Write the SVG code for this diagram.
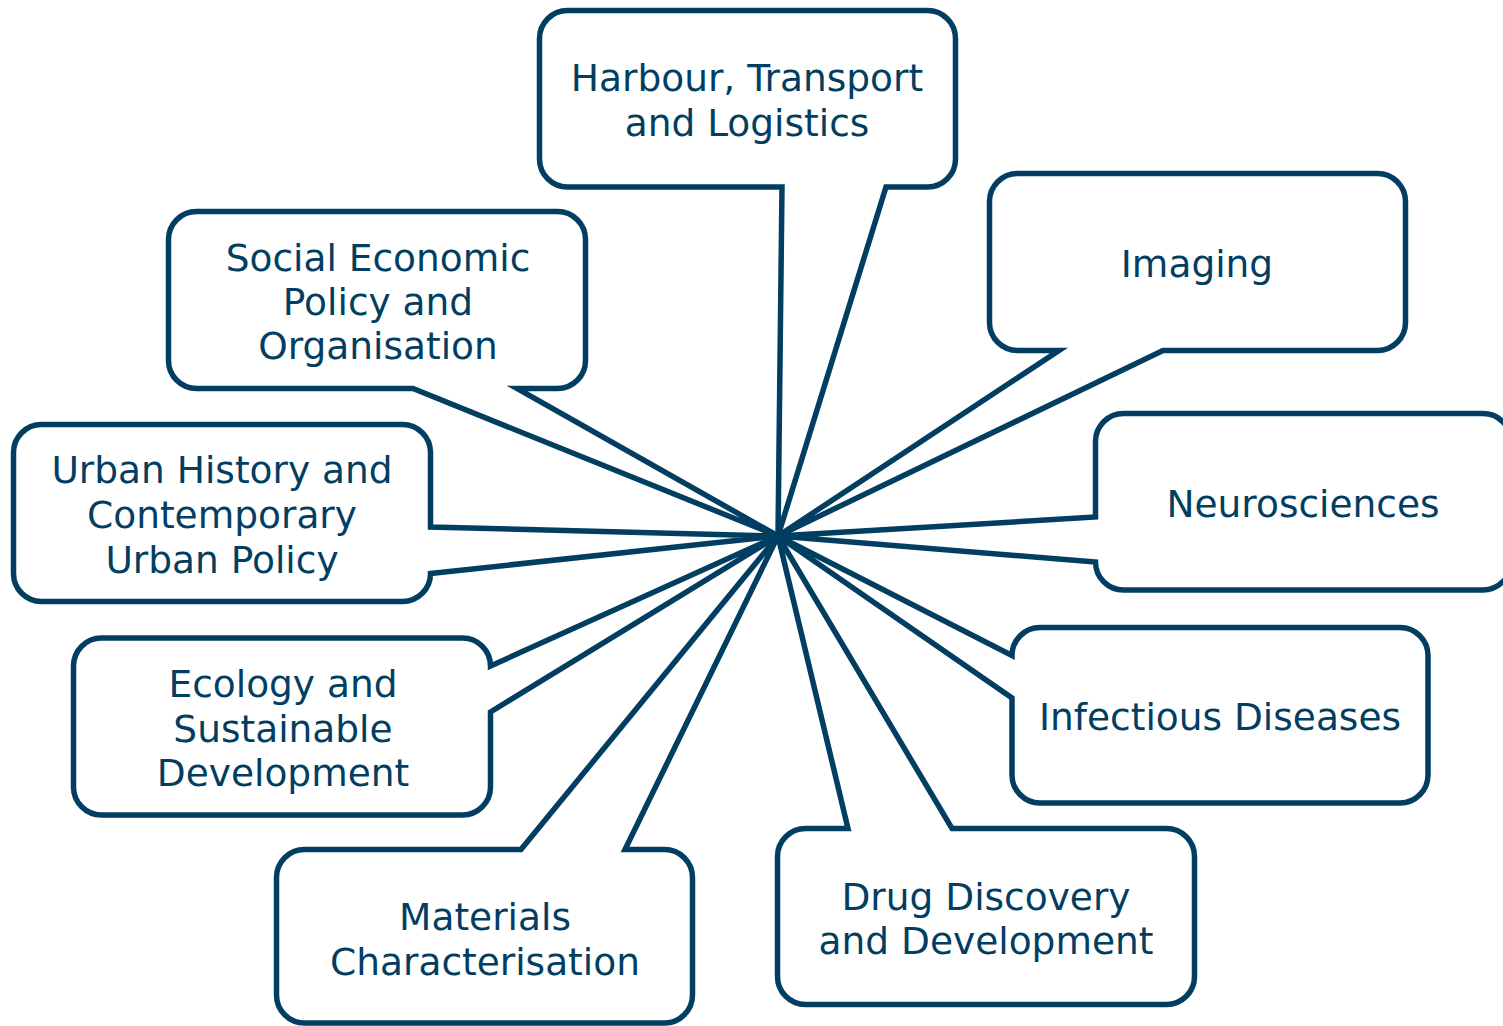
<svg xmlns="http://www.w3.org/2000/svg" width="1503" height="1026" viewBox="0 0 1503 1026">
<style>
.box{fill:#ffffff;stroke:#023e62;stroke-width:5.5;stroke-linejoin:miter}
.lbl{font-family:"DejaVu Sans",Verdana,sans-serif;font-size:37.5px;fill:#023e62;text-anchor:middle}
</style>
<rect width="1503" height="1026" fill="#ffffff"/>
<g id="connectors"></g>
<g id="harbour">
<path class="box" d="M567.5,10.5 H927.5 A28,28 0 0 1 955.5,38.5 V159 A28,28 0 0 1 927.5,187 H886 L778,536 L782,187 H567.5 A28,28 0 0 1 539.5,159 V38.5 A28,28 0 0 1 567.5,10.5 Z"/>
<text class="lbl" x="747" y="91">Harbour, Transport</text>
<text class="lbl" x="747" y="136">and Logistics</text>
</g>
<g id="imaging">
<path class="box" d="M1017.5,173.5 H1377.5 A28,28 0 0 1 1405.5,201.5 V322.5 A28,28 0 0 1 1377.5,350.5 H1163 L778,536 L1059,350.5 H1017.5 A28,28 0 0 1 989.5,322.5 V201.5 A28,28 0 0 1 1017.5,173.5 Z"/>
<text class="lbl" x="1197" y="277">Imaging</text>
</g>
<g id="neurosciences">
<path class="box" d="M1123.5,413.5 H1483 A28,28 0 0 1 1511,441.5 V562 A28,28 0 0 1 1483,590 H1123.5 A28,28 0 0 1 1095.5,562 L778,536 L1095.5,517 V441.5 A28,28 0 0 1 1123.5,413.5 Z"/>
<text class="lbl" x="1303" y="517">Neurosciences</text>
</g>
<g id="infectious">
<path class="box" d="M1040,627.5 H1400 A28,28 0 0 1 1428,655.5 V775 A28,28 0 0 1 1400,803 H1040 A28,28 0 0 1 1012,775 V698 L778,536 L1012,655.5 A28,28 0 0 1 1040,627.5 Z"/>
<text class="lbl" x="1220" y="730">Infectious Diseases</text>
</g>
<g id="drug">
<path class="box" d="M805.5,828.5 H848 L778,536 L952,828.5 H1166.5 A28,28 0 0 1 1194.5,856.5 V976.5 A28,28 0 0 1 1166.5,1004.5 H805.5 A28,28 0 0 1 777.5,976.5 V856.5 A28,28 0 0 1 805.5,828.5 Z"/>
<text class="lbl" x="986" y="910">Drug Discovery</text>
<text class="lbl" x="986" y="954">and Development</text>
</g>
<g id="materials">
<path class="box" d="M304.5,849.5 H521 L778,536 L625,849.5 H664.5 A28,28 0 0 1 692.5,877.5 V995 A28,28 0 0 1 664.5,1023 H304.5 A28,28 0 0 1 276.5,995 V877.5 A28,28 0 0 1 304.5,849.5 Z"/>
<text class="lbl" x="485" y="930">Materials</text>
<text class="lbl" x="485" y="975">Characterisation</text>
</g>
<g id="ecology">
<path class="box" d="M101.5,638 H462.5 A28,28 0 0 1 490.5,666 L778,536 L490.5,712 V787 A28,28 0 0 1 462.5,815 H101.5 A28,28 0 0 1 73.5,787 V666 A28,28 0 0 1 101.5,638 Z"/>
<text class="lbl" x="283" y="697">Ecology and</text>
<text class="lbl" x="283" y="742">Sustainable</text>
<text class="lbl" x="283" y="786">Development</text>
</g>
<g id="urban">
<path class="box" d="M41.5,424.5 H402.5 A28,28 0 0 1 430.5,452.5 V527 L778,536 L430.5,573.5 A28,28 0 0 1 402.5,601.5 H41.5 A28,28 0 0 1 13.5,573.5 V452.5 A28,28 0 0 1 41.5,424.5 Z"/>
<text class="lbl" x="222" y="483">Urban History and</text>
<text class="lbl" x="222" y="528">Contemporary</text>
<text class="lbl" x="222" y="573">Urban Policy</text>
</g>
<g id="social">
<path class="box" d="M196.5,211.5 H557.5 A28,28 0 0 1 585.5,239.5 V360.5 A28,28 0 0 1 557.5,388.5 H517 L778,536 L413,388.5 H196.5 A28,28 0 0 1 168.5,360.5 V239.5 A28,28 0 0 1 196.5,211.5 Z"/>
<text class="lbl" x="378" y="271">Social Economic</text>
<text class="lbl" x="378" y="315">Policy and</text>
<text class="lbl" x="378" y="359">Organisation</text>
</g>
</svg>
